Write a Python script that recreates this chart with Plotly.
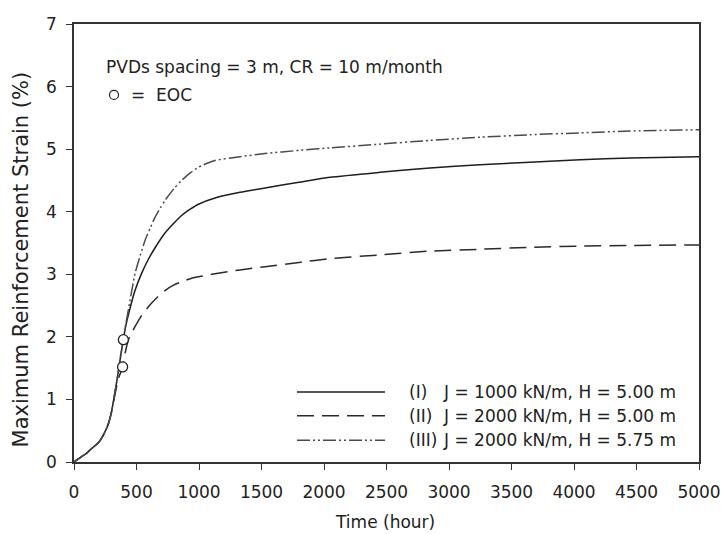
import plotly.graph_objects as go

# ---- data ----
time_I = [0, 50, 100, 150, 200, 240, 275, 300, 328, 355, 375, 395, 410, 450, 488, 540, 595, 660, 728, 800, 861, 930, 995,
          1128, 1328, 1528, 1800, 2048, 2448, 2848, 3248, 3648, 4048, 4448, 5000]
strain_I = [0, 0.07, 0.14, 0.23, 0.32, 0.45, 0.61, 0.8, 1.12, 1.45, 1.72, 1.955, 2.14, 2.47, 2.74, 3.01, 3.24, 3.46, 3.66,
            3.82, 3.94, 4.04, 4.12, 4.22, 4.31, 4.38, 4.47, 4.55, 4.63, 4.70, 4.75, 4.79, 4.83, 4.86, 4.88]

time_II = [0, 50, 100, 150, 200, 240, 275, 300, 328, 355, 389, 410, 435, 461, 490, 540, 595, 660, 728, 800, 861, 930, 995,
           1128, 1328, 1528, 1800, 2048, 2448, 2848, 3248, 3648, 4048, 4448, 5000]
strain_II = [0, 0.07, 0.14, 0.23, 0.32, 0.45, 0.61, 0.8, 1.08, 1.33, 1.52, 1.75, 1.95, 2.06, 2.17, 2.34, 2.48, 2.62, 2.74,
             2.83, 2.88, 2.93, 2.96, 3.01, 3.07, 3.12, 3.19, 3.25, 3.31, 3.37, 3.40, 3.43, 3.45, 3.46, 3.47]

time_III = [0, 50, 100, 150, 200, 240, 275, 300, 328, 355, 375, 395, 410, 450, 488, 530, 568, 610, 648, 690, 728, 800, 861,
            930, 995, 1060, 1128, 1328, 1528, 1800, 2048, 2448, 2848, 3248, 3648, 4048, 4448, 5000]
strain_III = [0, 0.07, 0.14, 0.23, 0.32, 0.45, 0.61, 0.8, 1.12, 1.45, 1.72, 1.955, 2.15, 2.6, 3.01, 3.30, 3.54, 3.74, 3.91,
              4.06, 4.18, 4.37, 4.50, 4.62, 4.71, 4.77, 4.82, 4.88, 4.93, 4.98, 5.02, 5.08, 5.14, 5.19, 5.23, 5.26, 5.29, 5.31]

eoc_time = [389, 395]
eoc_strain = [1.52, 1.955]

series_labels = ["J = 1000 kN/m, H = 5.00 m", "J = 2000 kN/m, H = 5.00 m", "J = 2000 kN/m, H = 5.75 m"]
series_ids = ["(I)", "(II)", "(III)"]

x_ticks = [0, 500, 1000, 1500, 2000, 2500, 3000, 3500, 4000, 4500, 5000]
y_ticks = [0, 1, 2, 3, 4, 5, 6, 7]

# ---- styling ----
FONT = "DejaVu Sans, Liberation Sans, Arial, sans-serif"
INK = "#222222"
FS = 17
styles = [
    dict(color="#1e1e1e", width=1.5, dash="solid"),
    dict(color="#2a2a2a", width=1.5, dash="17px,8px"),
    dict(color="#4a4a4a", width=1.5, dash="13px,3px,2px,3px,2px,3px"),
]

W, H = 723, 534
L, R, T, B = 74, 24, 23.5, 72.3
pw, ph = W - L - R, H - T - B


def px(xpix):
    return (xpix - L) / pw


def py(ypix):
    return (H - B - ypix) / ph


fig = go.Figure()
for t, s, st in zip([time_I, time_II, time_III], [strain_I, strain_II, strain_III], styles):
    fig.add_trace(go.Scatter(x=t, y=s, mode="lines", line=dict(shape="spline", smoothing=0.6, **st),
                             showlegend=False, hoverinfo="skip"))

fig.add_trace(go.Scatter(x=eoc_time, y=eoc_strain, mode="markers",
                         marker=dict(symbol="circle", size=10, color="white", line=dict(color="#222", width=1.3)),
                         showlegend=False, hoverinfo="skip"))

shapes = []
annotations = []

# manual legend
legend_rows = [391.7, 415.5, 440]
for row_y, st, sid, lab in zip(legend_rows, styles, series_ids, series_labels):
    shapes.append(dict(type="line", xref="paper", yref="paper", x0=px(297), x1=px(385), y0=py(row_y), y1=py(row_y),
                       line=st))
    annotations.append(dict(xref="paper", yref="paper", x=px(407), y=py(row_y), text=sid, showarrow=False,
                            xanchor="left", yanchor="middle", font=dict(family=FONT, size=FS, color=INK)))
    annotations.append(dict(xref="paper", yref="paper", x=px(441), y=py(row_y), text=lab, showarrow=False,
                            xanchor="left", yanchor="middle", font=dict(family=FONT, size=FS, color=INK)))

# top-left notes
annotations.append(dict(xref="paper", yref="paper", x=px(104), y=py(66.5), text="PVDs spacing = 3 m, CR = 10 m/month",
                        showarrow=False, xanchor="left", yanchor="middle", font=dict(family=FONT, size=FS, color=INK)))
shapes.append(dict(type="circle", xref="paper", yref="paper", x0=px(109.5), x1=px(118.5), y0=py(90), y1=py(99),
                   line=dict(color="#222", width=1.2), fillcolor="white"))
annotations.append(dict(xref="paper", yref="paper", x=px(129), y=py(95), text="=  EOC",
                        showarrow=False, xanchor="left", yanchor="middle", font=dict(family=FONT, size=FS, color=INK)))

# axis titles
annotations.append(dict(xref="paper", yref="paper", x=px(385), y=py(522), text="Time (hour)", showarrow=False,
                        xanchor="center", yanchor="middle", font=dict(family=FONT, size=FS, color=INK)))
annotations.append(dict(xref="paper", yref="paper", x=px(21), y=py(259), text="Maximum Reinforcement Strain (%)",
                        textangle=-90, showarrow=False, xanchor="center", yanchor="middle",
                        font=dict(family=FONT, size=21, color=INK)))

axis_common = dict(showgrid=False, zeroline=False, showline=True, linecolor="#333", linewidth=1.5, mirror=True,
                   ticks="outside", ticklen=6, tickwidth=1.2, tickcolor="#333", automargin=False,
                   tickfont=dict(family=FONT, size=FS, color=INK))

fig.update_layout(
    width=W, height=H, autosize=False,
    margin=dict(l=L, r=R, t=T, b=B, autoexpand=False),
    paper_bgcolor="white", plot_bgcolor="white",
    shapes=shapes, annotations=annotations,
    xaxis=dict(range=[0, 5000], tickvals=x_ticks, ticktext=[str(v) for v in x_ticks], ticklabelstandoff=8,
               **axis_common),
    yaxis=dict(range=[0, 7], tickvals=y_ticks, ticktext=[str(v) for v in y_ticks], ticklabelstandoff=6,
               **axis_common),
)

post = (
    "document.documentElement.style.overflow='hidden';"
    "document.body.style.margin='0';document.body.style.padding='0';document.body.style.overflow='hidden';"
)

fig.write_html("out.html", config={"displayModeBar": False, "responsive": False}, post_script=post)
